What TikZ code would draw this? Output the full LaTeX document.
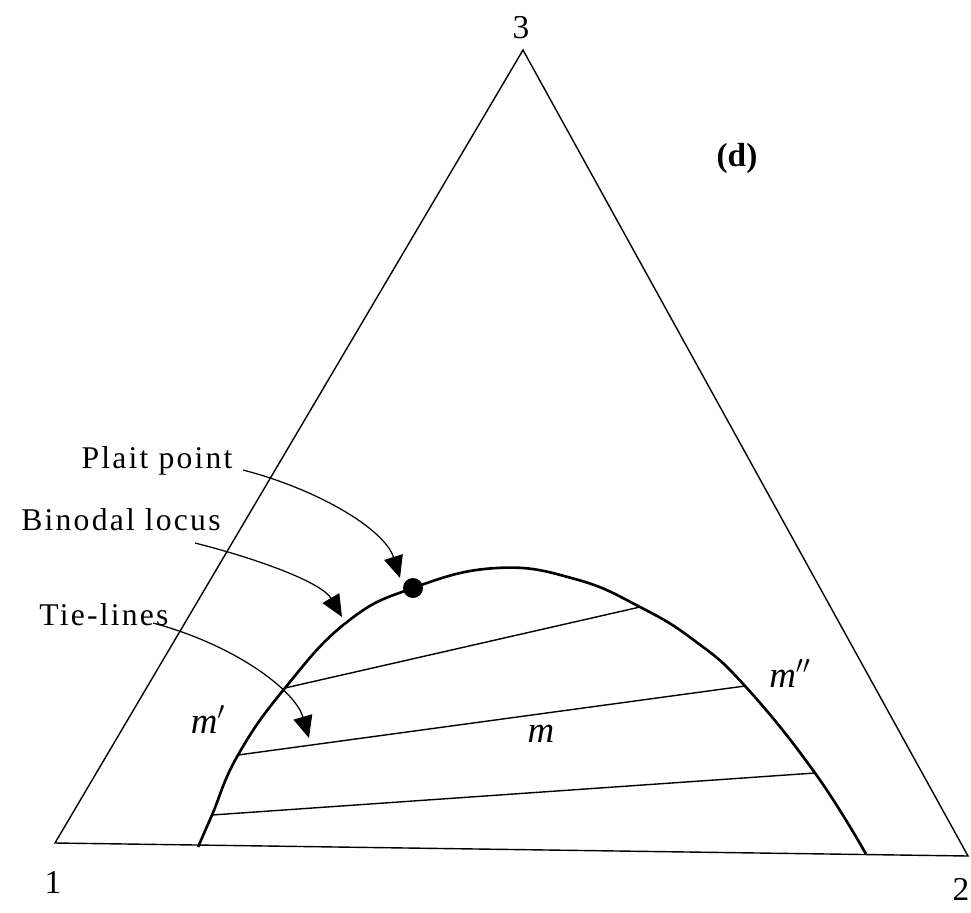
\documentclass[tikz,border=0pt]{standalone}
\usepackage{fontspec}
\setmainfont{Liberation Serif}
\usepackage{tikz}
\usetikzlibrary{arrows.meta}

\tikzset{
  edge/.style={line width=0.8pt},
  binodal/.style={line width=1.5pt},
  tieline/.style={line width=0.8pt},
  pointer/.style={line width=0.7pt, -{Triangle[length=12.5pt,width=11pt]}},
  lab/.style={inner sep=0pt, anchor=base, font=\fontsize{18}{20}\selectfont\addfontfeature{LetterSpace=7}},
  corner/.style={inner sep=0pt, anchor=base, font=\fontsize{19}{21}\selectfont},
  phase/.style={inner sep=0pt, anchor=base, font=\fontsize{21}{23}\selectfont\itshape}
}

\begin{document}
\begin{tikzpicture}[x=0.02cm, y=-0.02cm]
  \useasboundingbox (0,0) rectangle (971,913);

  % triangle
  \coordinate (v1) at (55,843);
  \coordinate (v2) at (968,856);
  \coordinate (v3) at (523,50);
  \draw[edge, line join=miter] (v1) -- (v2) -- (v3) -- cycle;
  \node[corner] (n1) at (53,893) {1};
  \node[corner] (n2) at (961,900) {2};
  \node[corner] (n3) at (521,38) {3};
  \node[corner, font=\fontsize{19}{21}\selectfont\bfseries] (tag) at (737,166) {(d)};

  % binodal curve
  \coordinate (b0) at (198,847);
  \coordinate (t3a) at (212,815);
  \coordinate (t2a) at (238,755);
  \coordinate (t1a) at (285,688);
  \coordinate (ba) at (347,622);
  \coordinate (plait) at (413,588);
  \coordinate (top) at (497,568);
  \coordinate (bb) at (575,579);
  \coordinate (t1b) at (640,607);
  \coordinate (bc) at (695,641);
  \coordinate (t2b) at (745,686);
  \coordinate (t3b) at (815,773);
  \coordinate (b1) at (866,854);
  \draw[binodal] plot[smooth, tension=0.75] coordinates {(b0) (t3a) (t2a) (t1a) (ba) (plait) (top) (bb) (t1b) (bc) (t2b) (t3b) (b1)};
  \fill (plait) circle (10);

  % tie-lines
  \draw[tieline] (t1a) -- (t1b);
  \draw[tieline] (t2a) -- (t2b);
  \draw[tieline] (t3a) -- (t3b);

  \node[phase] (m1) at (208,733) {m$'$};
  \node[phase] (m0) at (541,742) {m};
  \node[phase] (m2) at (790,687) {m$''$};

  % labels and pointers
  \node[lab] (plaitlab) at (157,468) {Plait point};
  \node[lab] (binlab) at (121,530) {Binodal locus};
  \node[lab] (tielab) at (104,625) {Tie-lines};
  \coordinate (s1) at (243,470);
  \coordinate (s2) at (195,543);
  \coordinate (s3) at (153,623);
  \coordinate (e1) at (400,578);
  \coordinate (e2) at (342,617);
  \coordinate (e3) at (309,738);
  \draw[pointer] (s1) .. controls (320,490) and (385,530) .. (e1);
  \draw[pointer] (s2) .. controls (262,560) and (322,583) .. (e2);
  \draw[pointer] (s3) .. controls (235,645) and (295,690) .. (e3);
\end{tikzpicture}
\end{document}
